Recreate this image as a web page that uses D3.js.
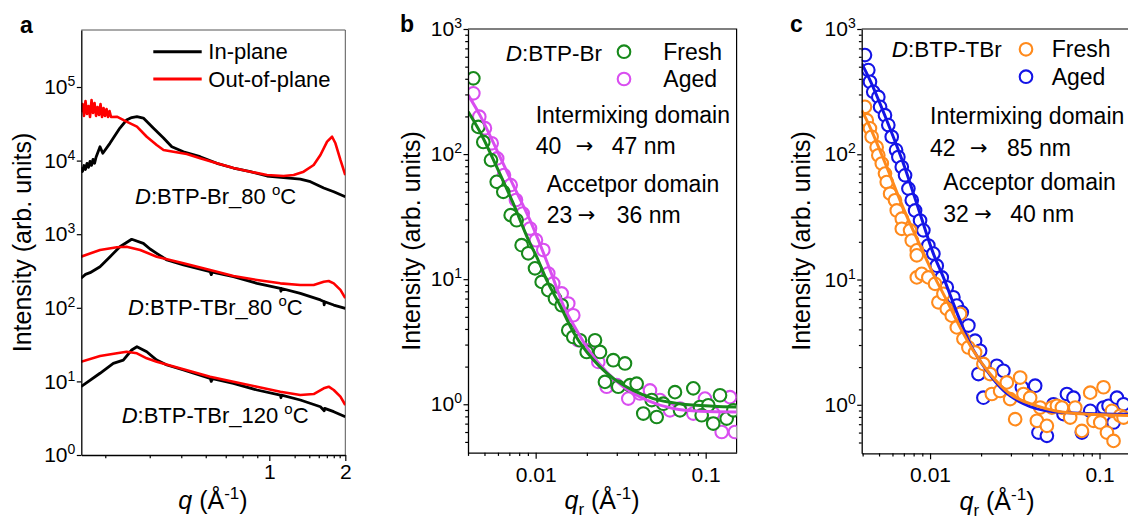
<!DOCTYPE html>
<html>
<head>
<meta charset="utf-8">
<script src="https://cdn.jsdelivr.net/npm/d3@7"></script>
<style>
  body { margin: 0; background: #fff; }
  svg { display: block; font-family: "Liberation Sans", Arial, Helvetica, sans-serif; }
</style>
</head>
<body>
<svg id="fig" width="1128" height="520"></svg>
<script>
// ---------- Panel a: 1D GIWAXS line cuts, [q (1/Å), intensity] ----------
const brInPlane = [[0.1795,8060],[0.1820,7110],[0.1845,8580],[0.1870,7570],[0.1896,9160],[0.1922,8090],[0.1949,9750],[0.1976,8610],[0.2003,10400],[0.2031,9190],[0.2059,11100],[0.2135,15400],[0.219,12600],[0.234,17300],[0.256,27700],[0.272,35600],[0.285,38500],[0.299,39500],[0.317,37900],[0.347,27700],[0.381,20300],[0.411,15400],[0.457,13200],[0.532,11300],[0.620,9190],[0.721,7930],[0.841,7070],[0.979,6180],[1.139,5860],[1.327,5620],[1.455,5170],[1.643,4250],[1.800,3780],[2.0,3230]];
const brOutPlane = [[0.1795,45700],[0.1820,58700],[0.1845,40400],[0.1870,64500],[0.1896,43000],[0.1922,55200],[0.1949,39100],[0.1976,66600],[0.2003,44300],[0.2031,60600],[0.2059,40400],[0.2087,53500],[0.2116,41700],[0.2145,58700],[0.2175,39100],[0.2205,51800],[0.2235,40400],[0.2266,50200],[0.2297,39100],[0.2329,47200],[0.2361,39100],[0.249,39500],[0.272,33800],[0.299,28900],[0.327,21100],[0.358,16300],[0.381,13900],[0.417,13200],[0.471,12300],[0.532,10800],[0.620,9190],[0.721,7930],[0.841,7070],[0.979,6370],[1.139,6180],[1.249,6370],[1.368,7070],[1.499,8710],[1.594,11900],[1.694,18100],[1.773,21100],[1.828,17200],[1.913,10200],[2.0,6370]];
const tbr80InPlane = [[0.1795,252],[0.187,285],[0.195,300],[0.2135,362],[0.234,495],[0.256,676],[0.285,853],[0.317,752],[0.337,629],[0.358,550],[0.393,446],[0.457,382],[0.583,309],[0.589,282],[0.595,306],[0.721,265],[0.894,215],[1.106,184],[1.112,168],[1.118,183],[1.327,157],[1.594,128],[1.643,122],[1.650,110],[1.657,121],[1.800,109],[2.0,98.4]];
const tbr80OutPlane = [[0.1795,495],[0.2135,610],[0.249,664],[0.272,676],[0.308,610],[0.358,495],[0.457,403],[0.583,326],[0.721,270],[0.894,239],[1.106,215],[1.327,204],[1.499,204],[1.643,226],[1.719,231],[1.800,215],[1.913,175],[2.0,135]];
const tbr120InPlane = [[0.1795,8.47],[0.2135,12.9],[0.241,17.6],[0.264,19.5],[0.285,26.7],[0.299,29.6],[0.327,25.3],[0.358,19.5],[0.393,16.7],[0.457,14.3],[0.583,11.0],[0.589,10.0],[0.595,10.9],[0.721,9.42],[0.894,7.64],[1.106,6.53],[1.112,6.0],[1.118,6.5],[1.327,5.59],[1.594,4.53],[1.650,4.0],[1.657,4.3],[1.800,3.88],[2.0,3.31]];
const tbr120OutPlane = [[0.1795,18.5],[0.2135,22.1],[0.249,24.1],[0.272,25.3],[0.299,24.1],[0.327,20.6],[0.358,18.5],[0.457,14.6],[0.583,11.6],[0.721,9.91],[0.894,8.47],[1.106,7.24],[1.327,6.53],[1.499,6.74],[1.643,8.06],[1.719,8.47],[1.800,7.64],[1.913,6.20],[2.0,4.78]];

const aXMajor = [1, 2];
const aXMinor = [0.224, 0.336, 0.448, 0.56, 0.672, 0.784, 0.896, 1.26, 1.44, 1.57, 1.69, 1.8, 1.9];
const aYMajor = [1, 10, 100, 1e3, 1e4, 1e5];
const aLabels = ["BTP-Br_80 ", "BTP-TBr_80 ", "BTP-TBr_120 "];

// ---------- Panel b: R-SoXS profiles of D:BTP-Br, [q_r (1/Å), intensity] ----------
const bFresh = [[0.00430,403],[0.00460,165],[0.00492,125],[0.00546,89.5],[0.00590,60.0],[0.00645,49.9],[0.00713,32.5],[0.00773,29.6],[0.00827,18.7],[0.00905,16.1],[0.00991,12.2],[0.01085,9.51],[0.01186,8.17],[0.01299,7.01],[0.01422,6.19],[0.01555,3.91],[0.01664,3.45],[0.01822,3.25],[0.01995,2.62],[0.02234,3.25],[0.02390,2.62],[0.02556,1.51],[0.02861,2.25],[0.03352,2.12],[0.03061,1.38],[0.03587,1.42],[0.03927,1.46],[0.04295,0.843],[0.04813,1.08],[0.05150,0.791],[0.05631,1.01],[0.06598,1.25],[0.07062,0.895],[0.08457,1.34],[0.09259,0.951],[0.1036,0.982],[0.09474,0.817],[0.1108,0.701],[0.1214,1.18],[0.1329,0.768],[0.1454,0.895]];
const bAged = [[0.00430,306],[0.00466,199],[0.00503,161],[0.00551,122],[0.00594,92.4],[0.00651,67.9],[0.00713,56.5],[0.00766,42.9],[0.00839,33.5],[0.00926,25.4],[0.01004,20.5],[0.01109,17.1],[0.01186,11.1],[0.01269,9.24],[0.01422,7.69],[0.01555,6.39],[0.01664,5.15],[0.01781,3.25],[0.02039,2.70],[0.02336,2.18],[0.02616,1.38],[0.02996,1.42],[0.03505,1.11],[0.04107,1.22],[0.04703,1.29],[0.05385,1.08],[0.06166,0.895],[0.07062,0.924],[0.08457,0.843],[0.09906,1.11],[0.1108,0.843],[0.1242,0.600],[0.1390,1.14],[0.1487,0.600]];
const bFreshFit = [[0.00401,218],[0.00470,151],[0.00590,79.1],[0.00738,40.3],[0.00926,19.3],[0.01014,15.1],[0.01161,9.82],[0.01390,6.19],[0.01664,3.79],[0.01995,2.62],[0.02390,1.99],[0.02861,1.61],[0.03750,1.29],[0.04918,1.11],[0.07062,1.01],[0.1108,0.964],[0.1522,0.951]];
const bAgedFit = [[0.00401,296],[0.00470,205],[0.00590,108],[0.00738,56.5],[0.00926,29.6],[0.01134,15.1],[0.01247,10.8],[0.01454,6.19],[0.01742,3.91],[0.02087,2.62],[0.02616,1.81],[0.03276,1.38],[0.04497,1.08],[0.06448,0.924],[0.09259,0.879],[0.1522,0.868]];

// ---------- Panel c: R-SoXS profiles of D:BTP-TBr ----------
const cFresh = [[0.00413,239],[0.00423,187],[0.00442,161],[0.00452,138],[0.00484,114],[0.00495,98.2],[0.00519,84.3],[0.00542,70.1],[0.00555,60.0],[0.00581,48.5],[0.00621,42.9],[0.00636,35.6],[0.00681,30.6],[0.00681,25.4],[0.00762,24.7],[0.00780,20.5],[0.00835,17.1],[0.00835,15.6],[0.00835,10.4],[0.00893,11.1],[0.00977,10.4],[0.01070,9.24],[0.01120,6.58],[0.01199,7.69],[0.01255,5.83],[0.01343,5.15],[0.01504,5.32],[0.01438,4.15],[0.01573,3.36],[0.01683,2.87],[0.01844,2.62],[0.02064,2.12],[0.02262,1.76],[0.02315,1.22],[0.02591,1.29],[0.02838,1.51],[0.02968,1.11],[0.03178,0.768],[0.03402,1.65],[0.03558,1.22],[0.03896,1.14],[0.04268,0.745],[0.04464,0.951],[0.04890,0.679],[0.05234,0.951],[0.05602,0.982],[0.05997,0.951],[0.06713,0.791],[0.07187,0.951],[0.07871,0.619],[0.08813,1.25],[0.09218,0.745],[0.1010,0.722],[0.1056,1.38],[0.1106,0.600],[0.1184,0.895],[0.1210,0.515],[0.1325,0.817],[0.1386,0.791]];
const cAged = [[0.00413,619],[0.00432,470],[0.00442,379],[0.00462,315],[0.00495,287],[0.00507,239],[0.00542,205],[0.00567,171],[0.00594,138],[0.00630,108],[0.00650,95.1],[0.00681,79.1],[0.00712,67.9],[0.00745,53.2],[0.00780,42.9],[0.00816,35.6],[0.00873,29.6],[0.00913,24.7],[0.00977,18.7],[0.01046,16.1],[0.01095,12.9],[0.01172,10.4],[0.01255,8.68],[0.01373,7.22],[0.01438,6.19],[0.01539,5.47],[0.01683,4.29],[0.01844,3.25],[0.01974,2.70],[0.02477,2.05],[0.01929,1.76],[0.02064,1.14],[0.02710,1.87],[0.03481,1.38],[0.04171,1.42],[0.04362,0.600],[0.04890,0.565],[0.05349,1.01],[0.06130,0.843],[0.06419,1.22],[0.07022,1.14],[0.07871,0.600],[0.08813,0.895],[0.1056,0.951],[0.1130,0.982],[0.1267,1.14],[0.1210,0.722],[0.1386,1.01]];
const cFreshFit = [[0.00395,225],[0.00442,165],[0.00555,79.1],[0.00696,37.0],[0.00873,18.7],[0.01046,11.0],[0.01255,6.79],[0.01504,4.15],[0.01802,2.70],[0.02262,1.76],[0.02968,1.22],[0.04268,0.98],[0.06713,0.86],[0.154,0.82]];
const cAgedFit = [[0.00395,532],[0.00442,391],[0.00555,187],[0.00696,84.3],[0.00873,33.5],[0.01046,16.1],[0.01199,10.4],[0.01438,5.47],[0.01723,3.06],[0.02163,1.87],[0.02710,1.30],[0.03558,1.02],[0.05349,0.88],[0.1056,0.845],[0.154,0.84]];

const bcXMajor = [0.01, 0.1];
const bcXMinor = [0.004,0.005,0.006,0.007,0.008,0.009,0.02,0.03,0.04,0.05,0.06,0.07,0.08,0.09];
const bcYMajor = [1, 10, 100, 1000];
const bcYMinor = [0.5,0.6,0.7,0.8,0.9,2,3,4,5,6,7,8,9,20,30,40,50,60,70,80,90,200,300,400,500,600,700,800,900];

// ---------- drawing ----------
const svg = d3.select("#fig");
const C = { inPlane: "#000000", outPlane: "#ff0000", green: "#17891b", violet: "#d94ef0",
            orange: "#ff8a1c", blue: "#1414e6" };

const aX = d3.scaleLog().domain([0.18, 2]).range([81.3, 345.3]);
const aY = d3.scaleLog().domain([1, 5.95e5]).range([455, 30]);
const bX = d3.scaleLog().domain([0.004, 0.152]).range([468, 736.6]);
const bY = d3.scaleLog().domain([0.41, 1000]).range([452.7, 29]);
const cX = d3.scaleLog().domain([0.00395, 0.154]).range([861.7, 1131.3]);
const cY = d3.scaleLog().domain([0.41, 1000]).range([453.3, 29]);

const defs = svg.append("defs");
function clip(id, x, y) {
  defs.append("clipPath").attr("id", id).append("rect")
    .attr("x", x.range()[0]).attr("y", y.range()[1])
    .attr("width", x.range()[1] - x.range()[0]).attr("height", y.range()[0] - y.range()[1]);
  return `url(#${id})`;
}

function styleAxis(g, fs) {
  g.attr("font-size", fs).attr("font-family", null);
  g.selectAll("path.domain").attr("stroke", "#000").attr("stroke-width", 1.3);
  g.selectAll(".tick line").attr("stroke", "#000").attr("stroke-width", 1.2);
  g.selectAll(".tick text").attr("fill", "#000");
}

function powerLabels(g) {
  g.selectAll(".tick text").each(function (d) {
    const t = d3.select(this).text(null);
    t.append("tspan").text("10");
    t.append("tspan").attr("dy", -8).attr("font-size", 14).text(Math.round(Math.log10(d)));
  });
}

function frame(x, y, color, w) {
  const [x0, x1] = x.range(), [y0, y1] = y.range();
  svg.append("path").attr("d", `M${x0},${y1}H${x1}V${y0}`)
    .attr("fill", "none").attr("stroke", color).attr("stroke-width", w);
}

function xAxis(x, y, major, minor, fmt, majorLen, pad) {
  const yb = y.range()[0];
  const g = svg.append("g").attr("transform", `translate(0,${yb})`)
    .call(d3.axisBottom(x).tickValues(major).tickFormat(fmt).tickSize(majorLen).tickPadding(pad).tickSizeOuter(0));
  styleAxis(g, 21);
  const m = svg.append("g").attr("transform", `translate(0,${yb})`)
    .call(d3.axisBottom(x).tickValues(minor).tickFormat("").tickSize(3.2).tickSizeOuter(0));
  m.select("path.domain").remove();
  styleAxis(m, 21);
}

function yAxis(x, y, major, minor) {
  const xl = x.range()[0];
  const g = svg.append("g").attr("transform", `translate(${xl},0)`)
    .call(d3.axisLeft(y).tickValues(major).tickSize(4.5).tickPadding(1.5).tickSizeOuter(0));
  styleAxis(g, 21);
  powerLabels(g);
  if (minor) {
    const m = svg.append("g").attr("transform", `translate(${xl},0)`)
      .call(d3.axisLeft(y).tickValues(minor).tickFormat("").tickSize(2.8).tickSizeOuter(0));
    m.select("path.domain").remove();
    styleAxis(m, 21);
  }
}

function yTitle(cx, cy) {
  svg.append("text").attr("transform", `translate(${cx},${cy}) rotate(-90)`)
    .attr("text-anchor", "middle").attr("font-size", 25).text("Intensity (arb. units)");
}

function xTitle(cx, by, sub) {
  const t = svg.append("text").attr("x", cx).attr("y", by).attr("text-anchor", "middle").attr("font-size", 25);
  t.append("tspan").attr("font-style", "italic").text("q");
  if (sub) {
    t.append("tspan").attr("font-size", 17).attr("dy", 6).text("r");
    t.append("tspan").attr("dy", -6).text(" (Å");
  } else {
    t.append("tspan").text(" (Å");
  }
  t.append("tspan").attr("font-size", 17).attr("dy", -10).text("-1");
  t.append("tspan").attr("dy", 10).text(")");
}

function panelLetter(x, y, s) {
  svg.append("text").attr("x", x).attr("y", y).attr("font-size", 23).attr("font-weight", "bold").text(s);
}

function lineOf(x, y) {
  return d3.line().x(d => x(d[0])).y(d => y(d[1]));
}

// ---- panel a ----
frame(aX, aY, "#555", 1);
const aClip = clip("clipA", aX, aY);
const aLine = lineOf(aX, aY);
const aG = svg.append("g").attr("clip-path", aClip);
[[brInPlane, brOutPlane], [tbr80InPlane, tbr80OutPlane], [tbr120InPlane, tbr120OutPlane]].forEach(([ip, op]) => {
  aG.append("path").datum(ip).attr("d", aLine).attr("fill", "none")
    .attr("stroke", C.inPlane).attr("stroke-width", 2.8).attr("stroke-linejoin", "round");
  aG.append("path").datum(op).attr("d", aLine).attr("fill", "none")
    .attr("stroke", C.outPlane).attr("stroke-width", 2.6).attr("stroke-linejoin", "round");
});
xAxis(aX, aY, aXMajor, aXMinor, d3.format("d"), 6, 3);
yAxis(aX, aY, aYMajor, null);
yTitle(31, 242.5);
xTitle(213, 509, false);
panelLetter(20, 33, "a");

// legend for panel a
[["In-plane", C.inPlane, 51.7, 59.3], ["Out-of-plane", C.outPlane, 79, 86.7]].forEach(([lab, col, ly, ty]) => {
  svg.append("line").attr("x1", 153.3).attr("x2", 201.7).attr("y1", ly).attr("y2", ly)
    .attr("stroke", col).attr("stroke-width", 3);
  svg.append("text").attr("x", 208.3).attr("y", ty).attr("font-size", 22).text(lab);
});

// sample labels in panel a
[[135, 204], [128, 315], [121.7, 423.3]].forEach(([x, y], i) => {
  const t = svg.append("text").attr("x", x).attr("y", y).attr("font-size", 22);
  t.append("tspan").attr("font-style", "italic").text("D");
  t.append("tspan").text(":" + aLabels[i]);
  t.append("tspan").attr("font-size", 15).attr("dy", -9).text("o");
  t.append("tspan").attr("dy", 9).text("C");
});

// ---- panels b and c ----
function soxsPanel(x, y, id, sets, fits) {
  frame(x, y, "#000", 1.2);
  const g = svg.append("g").attr("clip-path", clip(id, x, y));
  sets.forEach(([data, col]) => {
    g.selectAll(null).data(data).enter().append("circle")
      .attr("cx", d => x(d[0])).attr("cy", d => y(d[1])).attr("r", 6.3)
      .attr("fill", "#fff").attr("stroke", col).attr("stroke-width", 2.1);
  });
  const ln = lineOf(x, y).curve(d3.curveMonotoneX);
  fits.forEach(([data, col]) => {
    g.append("path").datum(data).attr("d", ln).attr("fill", "none")
      .attr("stroke", col).attr("stroke-width", 3);
  });
  xAxis(x, y, bcXMajor, bcXMinor, d => (d === 0.01 ? "0.01" : "0.1"), 6, 8);
  yAxis(x, y, bcYMajor, bcYMinor);
}

soxsPanel(bX, bY, "clipB", [[bAged, C.violet], [bFresh, C.green]], [[bAgedFit, C.violet], [bFreshFit, C.green]]);
soxsPanel(cX, cY, "clipC", [[cAged, C.blue], [cFresh, C.orange]], [[cAgedFit, C.blue], [cFreshFit, C.orange]]);

yTitle(420, 241);
yTitle(810, 241);
xTitle(602, 509, true);
xTitle(997, 510, true);
panelLetter(400, 32, "b");
panelLetter(790, 32, "c");

function legendBlock(name, tx, ty, cx, cyF, cyA, lx, fresh, aged) {
  const t = svg.append("text").attr("x", tx).attr("y", ty).attr("font-size", 22.5);
  t.append("tspan").attr("font-style", "italic").text("D");
  t.append("tspan").text(":" + name);
  [[cyF, fresh, "Fresh"], [cyA, aged, "Aged"]].forEach(([cy, col, lab]) => {
    svg.append("circle").attr("cx", cx).attr("cy", cy).attr("r", 6.3)
      .attr("fill", "#fff").attr("stroke", col).attr("stroke-width", 2.1);
    svg.append("text").attr("x", lx).attr("y", cy + 7.8).attr("font-size", 23).text(lab);
  });
}

function domainText(x, y, title, from, to, arrowDx, toDx) {
  svg.append("text").attr("x", x).attr("y", y).attr("font-size", 23).text(title);
  const t = svg.append("text").attr("y", y + 31.5).attr("font-size", 23);
  t.append("tspan").attr("x", x).text(from);
  t.append("tspan").attr("x", x + arrowDx).attr("dy", -1).attr("font-size", 21)
    .attr("font-family", "DejaVu Sans").text("→");
  t.append("tspan").attr("x", x + toDx).attr("dy", 1).text(to + " nm");
}

legendBlock("BTP-Br", 505.7, 61, 624, 51.7, 79, 663.3, C.green, C.violet);
domainText(535.7, 122.5, "Intermixing domain", "40", "47", 40, 76);
domainText(546.7, 191.5, "Accetpor domain", "23", "36", 31, 70);

legendBlock("BTP-TBr", 891.7, 57, 1026, 49.3, 76.7, 1051.7, C.orange, C.blue);
domainText(930, 124, "Intermixing domain", "42", "85", 40, 77);
domainText(943.3, 190, "Acceptor domain", "32", "40", 31, 67);
</script>
</body>
</html>
